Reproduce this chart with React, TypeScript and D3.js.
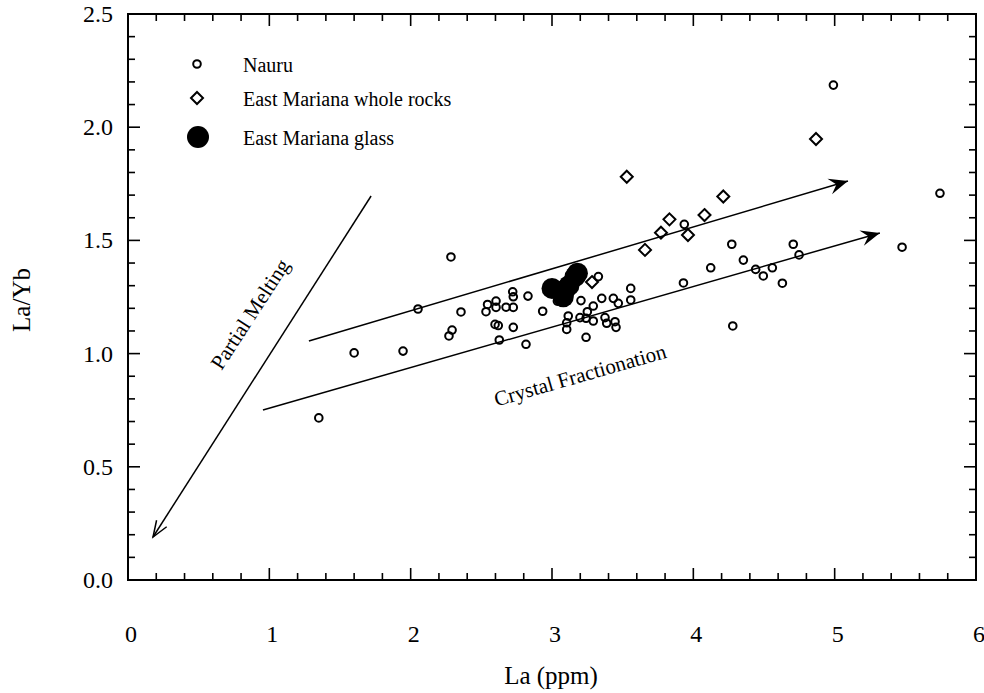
import React from "react";
import * as d3 from "d3";

// Nauru (open circles) [La ppm, La/Yb]
const nauru: [number, number][] = [
  [1.35, 0.716], [1.6, 1.003], [1.946, 1.011], [2.052, 1.197], [2.285, 1.427],
  [2.271, 1.078], [2.293, 1.104], [2.356, 1.184], [2.533, 1.185], [2.544, 1.217],
  [2.604, 1.232], [2.604, 1.204], [2.675, 1.205], [2.726, 1.204], [2.722, 1.273],
  [2.726, 1.251], [2.83, 1.254], [2.597, 1.129], [2.62, 1.124], [2.726, 1.116],
  [2.627, 1.06], [2.816, 1.041], [2.934, 1.187], [3.038, 1.232], [3.205, 1.234],
  [3.115, 1.166], [3.104, 1.136], [3.104, 1.107], [3.198, 1.159], [3.241, 1.156],
  [3.25, 1.185], [3.292, 1.21], [3.292, 1.144], [3.352, 1.244], [3.375, 1.159],
  [3.387, 1.134], [3.434, 1.244], [3.446, 1.141], [3.453, 1.116], [3.469, 1.222],
  [3.557, 1.288], [3.557, 1.237], [3.241, 1.072], [3.328, 1.34], [3.93, 1.312],
  [3.936, 1.571], [4.123, 1.379], [4.272, 1.483], [4.354, 1.413], [4.441, 1.372],
  [4.495, 1.343], [4.559, 1.379], [4.63, 1.311], [4.707, 1.483], [4.748, 1.436],
  [4.279, 1.122], [5.477, 1.47], [5.745, 1.708], [4.991, 2.186],
];

// East Mariana whole rocks (open diamonds)
const wholeRocks: [number, number][] = [
  [3.283, 1.316], [3.658, 1.458], [3.529, 1.781], [3.771, 1.534], [3.831, 1.593],
  [3.962, 1.524], [4.079, 1.612], [4.212, 1.694], [4.868, 1.948],
];

// East Mariana glass (filled circles)
const glass: [number, number][] = [
  [3.0, 1.288], [3.08, 1.251], [3.092, 1.281], [3.12, 1.3], [3.163, 1.34], [3.18, 1.355],
];

const xTicks = [0, 1, 2, 3, 4, 5, 6];
const yTicks = [0, 0.5, 1, 1.5, 2, 2.5];

// trend arrows, [from, to] in data units
const meltArrow: [number, number][] = [[1.72, 1.696], [0.177, 0.19]];
const fracUpper: [number, number][] = [[1.28, 1.056], [5.094, 1.762]];
const fracLower: [number, number][] = [[0.955, 0.751], [5.32, 1.533]];

const W = 984;
const H = 693;
const left = 128, right = 976, top = 14, bottom = 580;
const serif = "'Liberation Serif', 'DejaVu Serif', serif";

export default function App() {
  const x = d3.scaleLinear().domain([0, 6]).range([left, right]);
  const y = d3.scaleLinear().domain([0, 2.5]).range([bottom, top]);

  const xMinor = d3.range(0, 6.0001, 0.2);
  const yMinor = d3.range(0, 2.5001, 0.1);
  const isMajor = (v: number, step: number) => Math.abs(v / step - Math.round(v / step)) < 1e-6;

  const line = d3.line<[number, number]>().x((d) => x(d[0])).y((d) => y(d[1]));

  // filled barbed head for the fractionation arrows
  const filledHead = (a: [number, number][]) => {
    const x1 = x(a[1][0]), y1 = y(a[1][1]);
    const ang = Math.atan2(y1 - y(a[0][1]), x1 - x(a[0][0]));
    const len = 19, wid = 8, notch = 12;
    const pt = (d: number, s: number) =>
      [x1 - d * Math.cos(ang) - s * Math.sin(ang), y1 - d * Math.sin(ang) + s * Math.cos(ang)];
    const p = [[x1, y1], pt(len, wid), pt(notch, 0), pt(len, -wid)];
    return "M" + p.map((q) => q.join(",")).join("L") + "Z";
  };
  // open V head for partial melting
  const openHead = (a: [number, number][]) => {
    const x1 = x(a[1][0]), y1 = y(a[1][1]);
    const ang = Math.atan2(y1 - y(a[0][1]), x1 - x(a[0][0]));
    const len = 16, wid = 6;
    const pt = (s: number) =>
      [x1 - len * Math.cos(ang) - s * Math.sin(ang), y1 - len * Math.sin(ang) + s * Math.cos(ang)];
    const a1 = pt(wid), a2 = pt(-wid);
    return `M${a1.join(",")}L${x1},${y1}L${a2.join(",")}`;
  };

  const diamond = (cx: number, cy: number, r: number) =>
    `M${cx},${cy - r}L${cx + r},${cy}L${cx},${cy + r}L${cx - r},${cy}Z`;

  return (
    <svg width={W} height={H} style={{ position: "absolute", left: 0, top: 0, background: "#fff" }}>
      {/* frame */}
      <rect x={left} y={top} width={right - left} height={bottom - top} fill="none" stroke="#000" strokeWidth={2} />

      {/* ticks, all four sides, inward */}
      {xMinor.map((v, i) => {
        const L = isMajor(v, 1) ? 12 : 7;
        return (
          <g key={"xt" + i} stroke="#000" strokeWidth={1.6}>
            <line x1={x(v)} x2={x(v)} y1={bottom} y2={bottom - L} />
            <line x1={x(v)} x2={x(v)} y1={top} y2={top + L} />
          </g>
        );
      })}
      {yMinor.map((v, i) => {
        const L = isMajor(v, 0.5) ? 12 : 7;
        return (
          <g key={"yt" + i} stroke="#000" strokeWidth={1.6}>
            <line x1={left} x2={left + L} y1={y(v)} y2={y(v)} />
            <line x1={right} x2={right - L} y1={y(v)} y2={y(v)} />
          </g>
        );
      })}

      {/* tick labels */}
      {xTicks.map((v) => (
        <text key={"xl" + v} x={x(v) + 3} y={642} textAnchor="middle" fontFamily={serif} fontSize={24}>
          {v}
        </text>
      ))}
      {yTicks.map((v) => (
        <text key={"yl" + v} x={113} y={y(v) + 8} textAnchor="end" fontFamily={serif} fontSize={24}>
          {v.toFixed(1)}
        </text>
      ))}

      {/* axis titles */}
      <text x={551} y={684} textAnchor="middle" fontFamily={serif} fontSize={25}>La (ppm)</text>
      <text transform="translate(30,300) rotate(-90)" textAnchor="middle" fontFamily={serif} fontSize={25}>La/Yb</text>

      {/* trend arrows */}
      <g stroke="#000" strokeWidth={1.5} fill="none">
        <path d={line(meltArrow) ?? ""} />
        <path d={openHead(meltArrow)} />
        <path d={line(fracUpper) ?? ""} />
        <path d={line(fracLower) ?? ""} />
      </g>
      <path d={filledHead(fracUpper)} fill="#000" />
      <path d={filledHead(fracLower)} fill="#000" />

      <text transform="translate(256,318) rotate(-57)" textAnchor="middle" fontFamily={serif} fontSize={21}>
        Partial Melting
      </text>
      <text transform="translate(582,382) rotate(-16)" textAnchor="middle" fontFamily={serif} fontSize={21}>
        Crystal Fractionation
      </text>

      {/* data */}
      {nauru.map((d, i) => (
        <circle key={"n" + i} cx={x(d[0])} cy={y(d[1])} r={3.8} fill="none" stroke="#000" strokeWidth={2} />
      ))}
      {wholeRocks.map((d, i) => (
        <path key={"w" + i} d={diamond(x(d[0]), y(d[1]), 6)} fill="none" stroke="#000" strokeWidth={2} />
      ))}
      {glass.map((d, i) => (
        <circle key={"g" + i} cx={x(d[0])} cy={y(d[1])} r={10.5} fill="#000" />
      ))}

      {/* legend */}
      <circle cx={197} cy={64} r={3.8} fill="none" stroke="#000" strokeWidth={2} />
      <path d={diamond(197, 98, 6)} fill="none" stroke="#000" strokeWidth={2} />
      <circle cx={198} cy={137} r={11} fill="#000" />
      <text x={243} y={72} fontFamily={serif} fontSize={20}>Nauru</text>
      <text x={243} y={106} fontFamily={serif} fontSize={20}>East Mariana whole rocks</text>
      <text x={243} y={145} fontFamily={serif} fontSize={20}>East Mariana glass</text>
    </svg>
  );
}
